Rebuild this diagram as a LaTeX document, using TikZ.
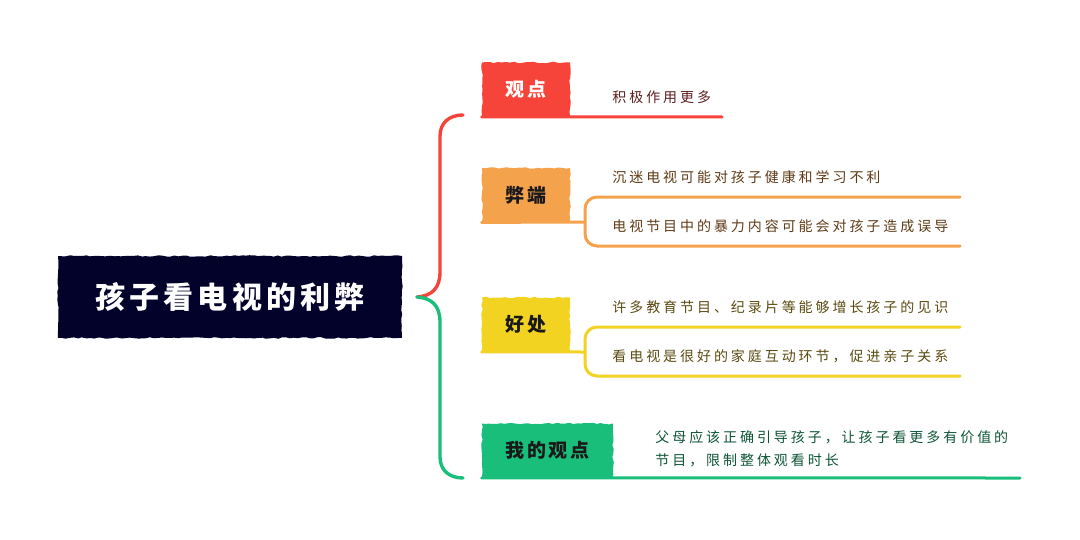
\documentclass[tikz,border=0pt]{standalone}
\usepackage{fontspec}
\setmainfont{Noto Sans CJK SC}
\newfontfamily\rootfont[LetterSpace=14]{Noto Sans CJK SC}
\newfontfamily\topicfont[LetterSpace=15]{Noto Sans CJK SC}
\newfontfamily\leaffont[LetterSpace=21]{Noto Sans CJK SC}
\usetikzlibrary{decorations.pathmorphing}
\definecolor{navy}{HTML}{03022A}
\definecolor{redc}{HTML}{F6443A}
\definecolor{orangec}{HTML}{F5A24C}
\definecolor{yellowc}{HTML}{F2D322}
\definecolor{greenc}{HTML}{18BE7A}
\definecolor{redtxt}{HTML}{5C1E1E}
\definecolor{orangetxt}{HTML}{5E3A16}
\definecolor{yellowtxt}{HTML}{5A4A10}
\definecolor{greentxt}{HTML}{0E5436}
\tikzstyle{rough}=[decorate, decoration={random steps, segment length=2pt, amplitude=.4pt}]
\tikzstyle{rootbox}=[rough, fill=navy, text=white, minimum width=172pt, minimum height=41pt, font=\rootfont\fontsize{15}{18}\selectfont\bfseries]
\tikzstyle{topic}=[rough, text=black!90, minimum width=44pt, minimum height=27pt, inner sep=0pt, font=\topicfont\fontsize{9.5}{11}\selectfont\bfseries]
\tikzstyle{leaf}=[anchor=west, inner sep=0pt, font=\leaffont\fontsize{7}{11.5}\selectfont]
\tikzstyle{branch}=[line width=1.5pt, line cap=round]
\tikzstyle{brace}=[line width=1.7pt, line cap=round]

\begin{document}
\begin{tikzpicture}[x=.5pt, y=-.5pt]
\useasboundingbox (0,0) rectangle (1080,540);
\node[rootbox] (root) at (230,297) {孩子看电视的利弊};
\node[topic, fill=redc, text=white] (view) at (526,89.5) {观点};
\node[topic, fill=orangec] (cons) at (526,195) {弊端};
\node[topic, fill=yellowc] (pros) at (526,324.5) {好处};
\node[topic, fill=greenc, minimum width=65.5pt] (mine) at (547.5,450.5) {我的观点};

% main brace
\coordinate (fork) at (417,297);
\coordinate (top) at (463,115);
\coordinate (bot) at (463,478);
\draw[brace, redc] (fork) .. controls (432,296) and (440,288) .. (440,272)
  -- (440,136) .. controls (440,123) and (449,115) .. (top);
\draw[brace, greenc] (fork) .. controls (432,298) and (440,306) .. (440,322)
  -- (440,457) .. controls (440,470) and (449,478) .. (bot);

% leaves
\node[leaf, text=redtxt] (view1) at (612,97) {积极作用更多};
\coordinate (view-end) at (722,117);
\draw[branch, redc] (view.south west) -- (view-end);

\node[leaf, text=orangetxt] (cons1) at (612,177) {沉迷电视可能对孩子健康和学习不利};
\node[leaf, text=orangetxt] (cons2) at (612,226) {电视节目中的暴力内容可能会对孩子造成误导};
\node[leaf, text=yellowtxt] (pros1) at (612,307) {许多教育节目、纪录片等能够增长孩子的见识};
\node[leaf, text=yellowtxt] (pros2) at (612,356) {看电视是很好的家庭互动环节，促进亲子关系};
\foreach \n/\c/\y in {cons/orangec/222, pros/yellowc/352}{
  \draw[branch, \c] (\n.south west) -- (585,\y);
  \draw[branch, \c, rounded corners=6pt] (960,\y-25) -- (585,\y-25) -- (585,\y+24) -- (960,\y+24);
}

\node[leaf, text=greentxt, align=left] (mine1) at (655,448.5) {父母应该正确引导孩子，让孩子看更多有价值的\\节目，限制整体观看时长};
\coordinate (mine-end) at (1020,478);
\draw[branch, greenc] (mine.south west) -- (mine-end);
\end{tikzpicture}
\end{document}
